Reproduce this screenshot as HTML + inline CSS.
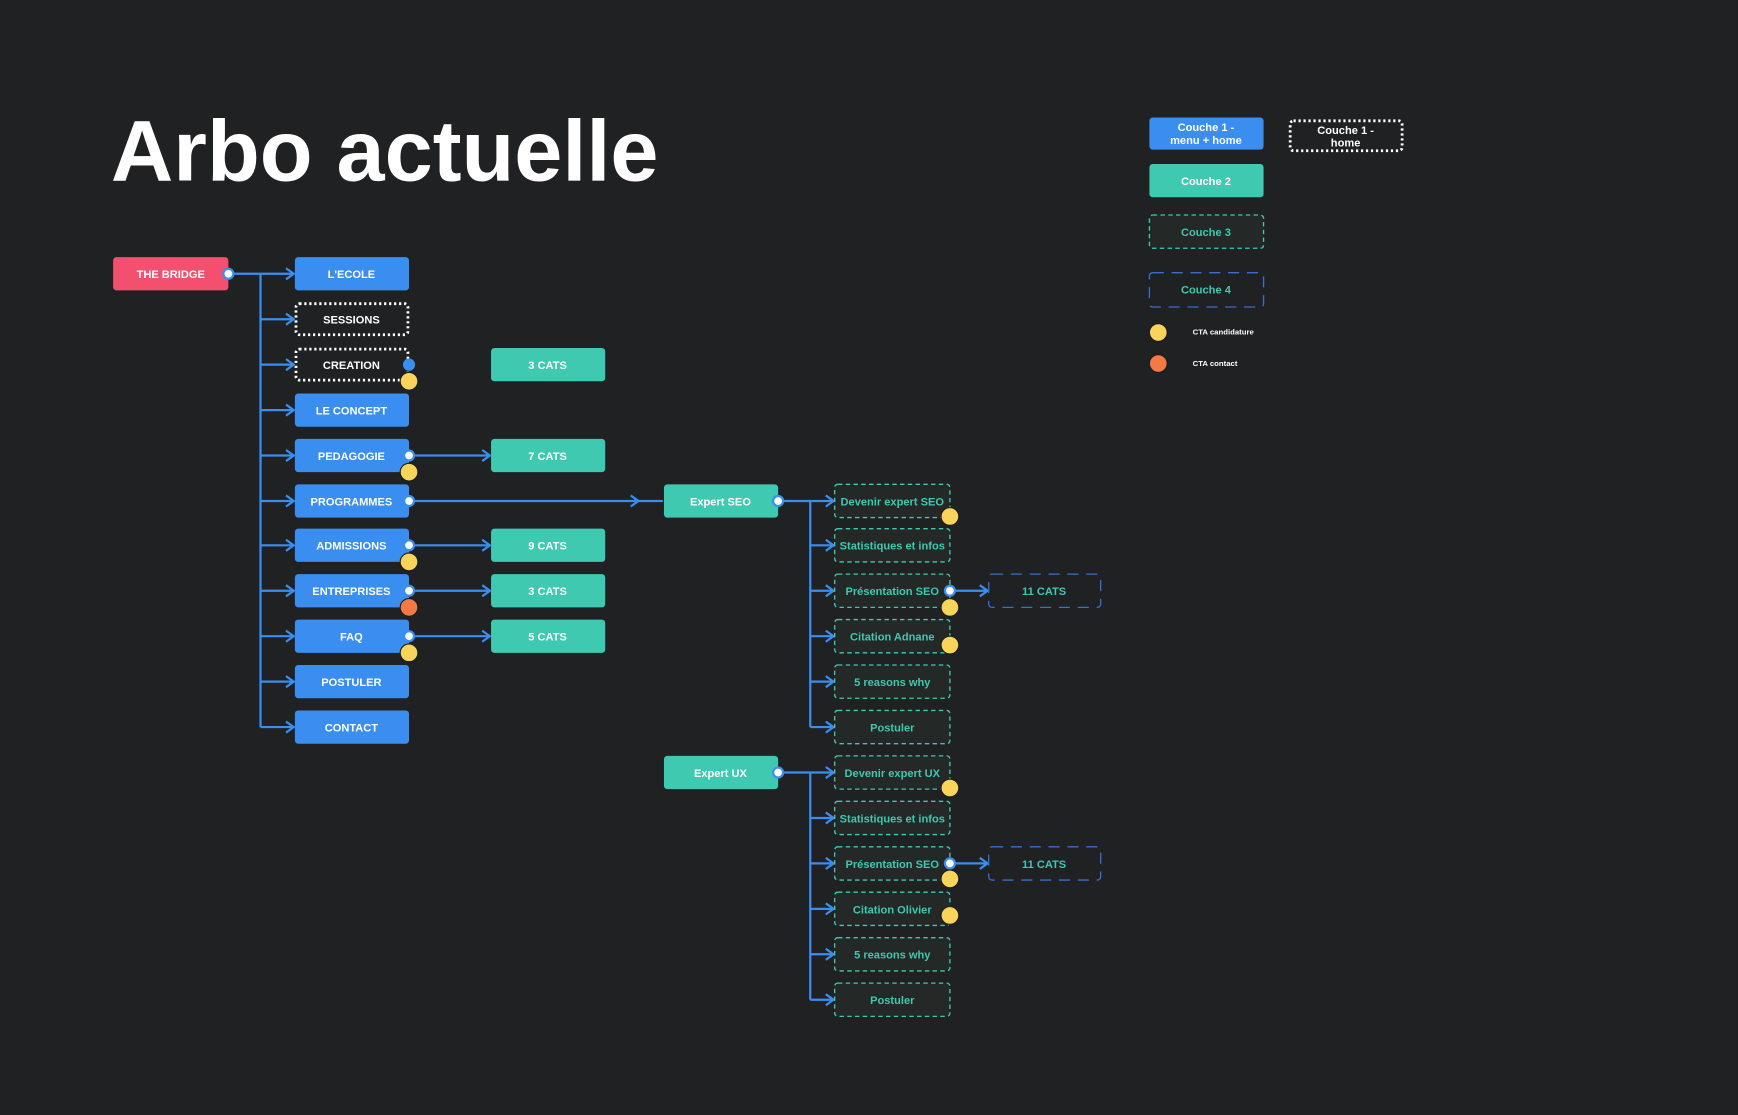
<!DOCTYPE html>
<html><head><meta charset="utf-8"><style>
html,body{margin:0;padding:0;background:#202123;}
svg{display:block}
text{font-family:"Liberation Sans",sans-serif;font-weight:bold;}
</style></head><body>
<svg width="1738" height="1115" viewBox="0 0 1568 1006" xmlns="http://www.w3.org/2000/svg">
<defs>
<marker id="ar" markerWidth="10" markerHeight="12" refX="9" refY="6" orient="auto" markerUnits="userSpaceOnUse">
<path d="M2,1 L9,6 L2,11" fill="none" stroke="#3a8ef0" stroke-width="2"/>
</marker>
</defs>
<rect width="1568" height="1006" fill="#202123"/>
<text x="100" y="163" font-size="78" fill="#fff">Arbo actuelle</text>

<g stroke="#3a8ef0" stroke-width="2" fill="none">
<!-- main trunk -->
<line x1="206" y1="247" x2="235" y2="247"/>
<line x1="235" y1="247" x2="235" y2="656"/>
<line x1="235" y1="247" x2="265" y2="247" marker-end="url(#ar)"/>
<line x1="235" y1="288" x2="265" y2="288" marker-end="url(#ar)"/>
<line x1="235" y1="329" x2="265" y2="329" marker-end="url(#ar)"/>
<line x1="235" y1="370" x2="265" y2="370" marker-end="url(#ar)"/>
<line x1="235" y1="411" x2="265" y2="411" marker-end="url(#ar)"/>
<line x1="235" y1="452" x2="265" y2="452" marker-end="url(#ar)"/>
<line x1="235" y1="492" x2="265" y2="492" marker-end="url(#ar)"/>
<line x1="235" y1="533" x2="265" y2="533" marker-end="url(#ar)"/>
<line x1="235" y1="574" x2="265" y2="574" marker-end="url(#ar)"/>
<line x1="235" y1="615" x2="265" y2="615" marker-end="url(#ar)"/>
<line x1="235" y1="656" x2="265" y2="656" marker-end="url(#ar)"/>
<!-- to cats -->
<line x1="369" y1="411" x2="442" y2="411" marker-end="url(#ar)"/>
<line x1="369" y1="452" x2="576" y2="452" marker-end="url(#ar)"/>
<line x1="576" y1="452" x2="598" y2="452"/>
<line x1="369" y1="492" x2="442" y2="492" marker-end="url(#ar)"/>
<line x1="369" y1="533" x2="442" y2="533" marker-end="url(#ar)"/>
<line x1="369" y1="574" x2="442" y2="574" marker-end="url(#ar)"/>
<!-- SEO trunk -->
<line x1="702" y1="452" x2="731" y2="452"/>
<line x1="731" y1="452" x2="731" y2="656"/>
<line x1="731" y1="452" x2="752" y2="452" marker-end="url(#ar)"/>
<line x1="731" y1="492" x2="752" y2="492" marker-end="url(#ar)"/>
<line x1="731" y1="533" x2="752" y2="533" marker-end="url(#ar)"/>
<line x1="731" y1="574" x2="752" y2="574" marker-end="url(#ar)"/>
<line x1="731" y1="615" x2="752" y2="615" marker-end="url(#ar)"/>
<line x1="731" y1="656" x2="752" y2="656" marker-end="url(#ar)"/>
<line x1="857" y1="533" x2="891" y2="533" marker-end="url(#ar)"/>
<!-- UX trunk -->
<line x1="702" y1="697" x2="731" y2="697"/>
<line x1="731" y1="697" x2="731" y2="902"/>
<line x1="731" y1="697" x2="752" y2="697" marker-end="url(#ar)"/>
<line x1="731" y1="738" x2="752" y2="738" marker-end="url(#ar)"/>
<line x1="731" y1="779" x2="752" y2="779" marker-end="url(#ar)"/>
<line x1="731" y1="820" x2="752" y2="820" marker-end="url(#ar)"/>
<line x1="731" y1="861" x2="752" y2="861" marker-end="url(#ar)"/>
<line x1="731" y1="902" x2="752" y2="902" marker-end="url(#ar)"/>
<line x1="857" y1="779" x2="891" y2="779" marker-end="url(#ar)"/>
</g>

<!-- root -->
<rect x="102" y="232" width="104" height="30" rx="3" fill="#f2506e"/>
<text x="154" y="251" font-size="10" fill="#fff" text-anchor="middle">THE BRIDGE</text>

<!-- column 1 -->
<g font-size="10" fill="#fff" text-anchor="middle">
<rect x="266" y="232" width="103" height="30" rx="3" fill="#3a8ef0"/><text x="317" y="251">L'ECOLE</text>
<rect x="267" y="274" width="101" height="28" rx="3" fill="none" stroke="#fff" stroke-width="2.5" stroke-dasharray="2,2.5"/><text x="317" y="292">SESSIONS</text>
<rect x="267" y="315" width="101" height="28" rx="3" fill="none" stroke="#fff" stroke-width="2.5" stroke-dasharray="2,2.5"/><text x="317" y="333">CREATION</text>
<rect x="266" y="355" width="103" height="30" rx="3" fill="#3a8ef0"/><text x="317" y="374">LE CONCEPT</text>
<rect x="266" y="396" width="103" height="30" rx="3" fill="#3a8ef0"/><text x="317" y="415">PEDAGOGIE</text>
<rect x="266" y="437" width="103" height="30" rx="3" fill="#3a8ef0"/><text x="317" y="456">PROGRAMMES</text>
<rect x="266" y="477" width="103" height="30" rx="3" fill="#3a8ef0"/><text x="317" y="496">ADMISSIONS</text>
<rect x="266" y="518" width="103" height="30" rx="3" fill="#3a8ef0"/><text x="317" y="537">ENTREPRISES</text>
<rect x="266" y="559" width="103" height="30" rx="3" fill="#3a8ef0"/><text x="317" y="578">FAQ</text>
<rect x="266" y="600" width="103" height="30" rx="3" fill="#3a8ef0"/><text x="317" y="619">POSTULER</text>
<rect x="266" y="641" width="103" height="30" rx="3" fill="#3a8ef0"/><text x="317" y="660">CONTACT</text>

<!-- cats -->
<rect x="443" y="314" width="103" height="30" rx="3" fill="#3ec9b0"/><text x="494" y="333">3 CATS</text>
<rect x="443" y="396" width="103" height="30" rx="3" fill="#3ec9b0"/><text x="494" y="415">7 CATS</text>
<rect x="443" y="477" width="103" height="30" rx="3" fill="#3ec9b0"/><text x="494" y="496">9 CATS</text>
<rect x="443" y="518" width="103" height="30" rx="3" fill="#3ec9b0"/><text x="494" y="537">3 CATS</text>
<rect x="443" y="559" width="103" height="30" rx="3" fill="#3ec9b0"/><text x="494" y="578">5 CATS</text>

<rect x="599" y="437" width="103" height="30" rx="3" fill="#3ec9b0"/><text x="650" y="456">Expert SEO</text>
<rect x="599" y="682" width="103" height="30" rx="3" fill="#3ec9b0"/><text x="650" y="701">Expert UX</text>
</g>

<!-- layer 3 -->
<g font-size="10" fill="#3ec9b0" text-anchor="middle">
<g fill="#242827" stroke="#3ec9b0" stroke-width="1.2" stroke-dasharray="4,3">
<rect x="753" y="437" width="104" height="30" rx="3"/>
<rect x="753" y="477" width="104" height="30" rx="3"/>
<rect x="753" y="518" width="104" height="30" rx="3"/>
<rect x="753" y="559" width="104" height="30" rx="3"/>
<rect x="753" y="600" width="104" height="30" rx="3"/>
<rect x="753" y="641" width="104" height="30" rx="3"/>
<rect x="753" y="682" width="104" height="30" rx="3"/>
<rect x="753" y="723" width="104" height="30" rx="3"/>
<rect x="753" y="764" width="104" height="30" rx="3"/>
<rect x="753" y="805" width="104" height="30" rx="3"/>
<rect x="753" y="846" width="104" height="30" rx="3"/>
<rect x="753" y="887" width="104" height="30" rx="3"/>
</g>
<g fill="none" stroke="#3a6ed0" stroke-width="1.2" stroke-dasharray="10,7">
<rect x="892" y="518" width="101" height="30" rx="3"/>
<rect x="892" y="764" width="101" height="30" rx="3"/>
</g>
<text x="805" y="456">Devenir expert SEO</text>
<text x="805" y="496">Statistiques et infos</text>
<text x="805" y="537">Présentation SEO</text>
<text x="805" y="578">Citation Adnane</text>
<text x="805" y="619">5 reasons why</text>
<text x="805" y="660">Postuler</text>
<text x="805" y="701">Devenir expert UX</text>
<text x="805" y="742">Statistiques et infos</text>
<text x="805" y="783">Présentation SEO</text>
<text x="805" y="824">Citation Olivier</text>
<text x="805" y="865">5 reasons why</text>
<text x="805" y="906">Postuler</text>
<text x="942" y="537">11 CATS</text>
<text x="942" y="783">11 CATS</text>
</g>

<!-- connection points -->
<g fill="#fff" stroke="#3a8ef0" stroke-width="2">
<circle cx="206" cy="247" r="4.5"/>
<circle cx="369" cy="329" r="4.5" fill="#3a8ef0"/>
<circle cx="369" cy="411" r="4.5"/>
<circle cx="369" cy="452" r="4.5"/>
<circle cx="369" cy="492" r="4.5"/>
<circle cx="369" cy="533" r="4.5"/>
<circle cx="369" cy="574" r="4.5"/>
<circle cx="702" cy="452" r="4.5"/>
<circle cx="702" cy="697" r="4.5"/>
<circle cx="857" cy="533" r="4.5"/>
<circle cx="857" cy="779" r="4.5"/>
</g>

<!-- CTA dots -->
<g fill="#f9d45a" stroke="#1c1c1c" stroke-width="1">
<circle cx="369" cy="344" r="8"/>
<circle cx="369" cy="426" r="8"/>
<circle cx="369" cy="507" r="8"/>
<circle cx="369" cy="589" r="8"/>
<circle cx="857" cy="466" r="8"/>
<circle cx="857" cy="548" r="8"/>
<circle cx="857" cy="582" r="8"/>
<circle cx="857" cy="711" r="8"/>
<circle cx="857" cy="793" r="8"/>
<circle cx="857" cy="826" r="8"/>
<circle cx="1045" cy="300" r="8"/>
<circle cx="369" cy="548" r="8" fill="#f47a45"/>
<circle cx="1045" cy="328" r="8" fill="#f47a45"/>
</g>

<!-- legend -->
<g font-size="10" text-anchor="middle">
<rect x="1037" y="106" width="103" height="29" rx="3" fill="#3a8ef0"/>
<text x="1088" y="118" fill="#fff">Couche 1 -</text><text x="1088" y="130" fill="#fff">menu + home</text>
<rect x="1164" y="109" width="101" height="27" rx="3" fill="none" stroke="#fff" stroke-width="2.5" stroke-dasharray="2,2.5"/>
<text x="1214" y="121" fill="#fff">Couche 1 -</text><text x="1214" y="132" fill="#fff">home</text>
<rect x="1037" y="148" width="103" height="30" rx="3" fill="#3ec9b0"/>
<text x="1088" y="167" fill="#fff">Couche 2</text>
<rect x="1037" y="194" width="103" height="30" rx="3" fill="#242827" stroke="#3ec9b0" stroke-width="1.2" stroke-dasharray="4,3"/>
<text x="1088" y="213" fill="#3ec9b0">Couche 3</text>
<rect x="1037" y="246" width="103" height="31" rx="3" fill="none" stroke="#3a6ed0" stroke-width="1.2" stroke-dasharray="10,7"/>
<text x="1088" y="265" fill="#3ec9b0">Couche 4</text>
</g>
<text x="1076" y="302" font-size="7" fill="#fff">CTA candidature</text>
<text x="1076" y="330" font-size="7" fill="#fff">CTA contact</text>
</svg>
</body></html>
